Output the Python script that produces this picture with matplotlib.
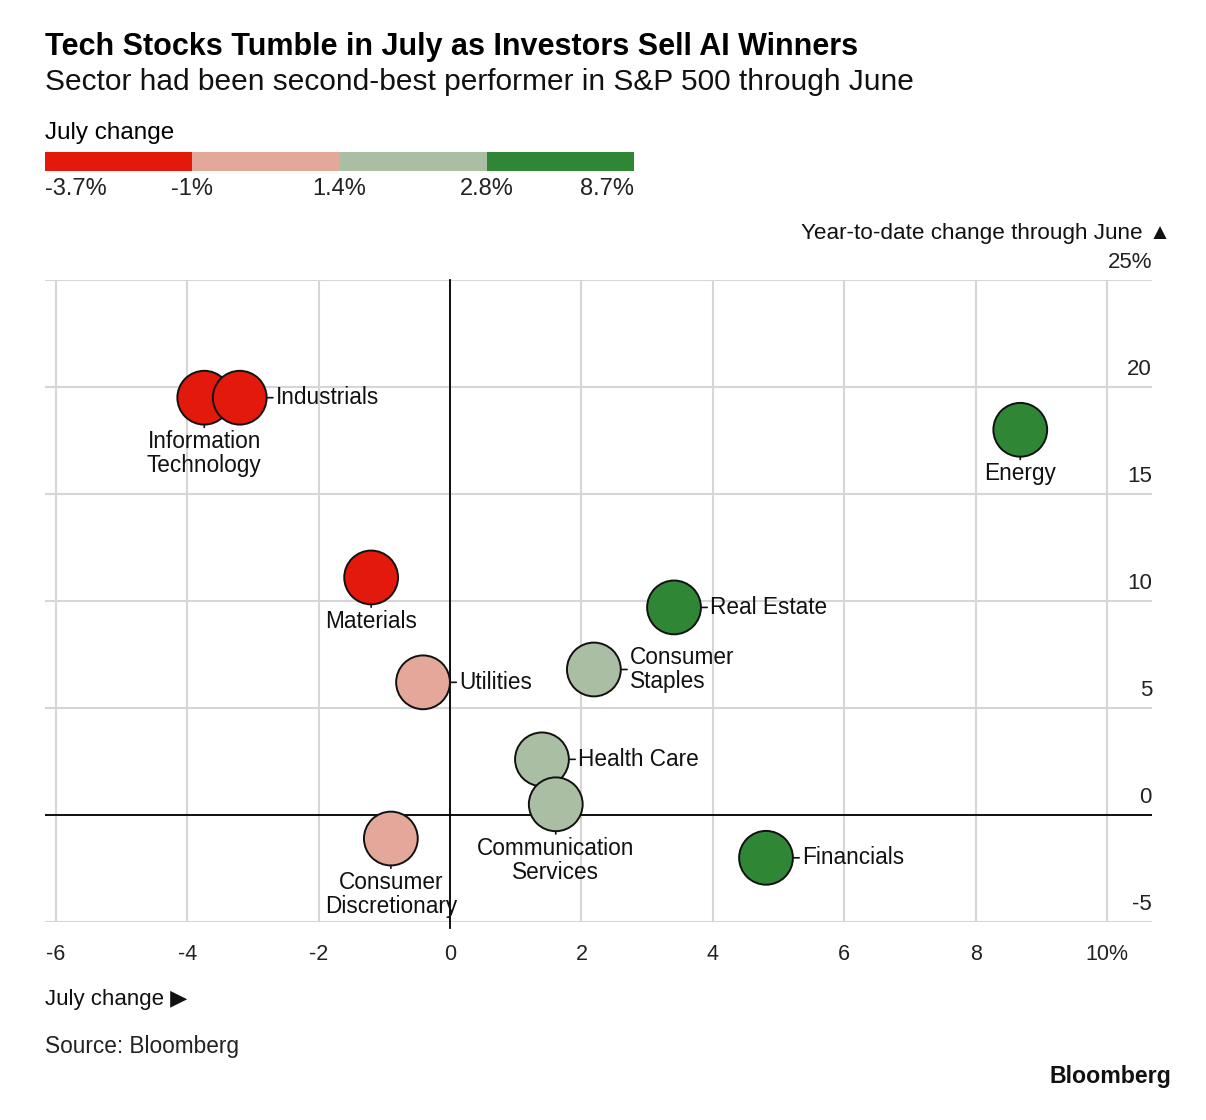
import numpy as np
import matplotlib.pyplot as plt

plt.rcParams['font.family'] = ['Liberation Sans', 'DejaVu Sans']

# data: July change (%) and year-to-date change through June (%)
sectors = ['Information\nTechnology', 'Industrials', 'Energy', 'Materials',
           'Real Estate', 'Consumer\nStaples', 'Utilities', 'Health Care',
           'Communication\nServices', 'Consumer\nDiscretionary', 'Financials']
july_chg = [-3.74, -3.20, 8.68, -1.20, 3.41, 2.19, -0.41, 1.40, 1.61, -0.90, 4.81]
ytd_chg = [19.5, 19.5, 18.0, 11.1, 9.7, 6.8, 6.2, 2.6, 0.5, -1.1, -2.0]
# where the label sits: 'right' or 'below'
label_side = ['below', 'right', 'below', 'below', 'right', 'right', 'right',
              'right', 'below', 'below', 'right']

bin_edges = [-1, 1.4, 2.8]
bin_labels = ['-3.7%', '-1%', '1.4%', '2.8%', '8.7%']
bin_colors = ['#e2190b', '#e4a89b', '#a9bea3', '#2f8736']

xticks = [-6, -4, -2, 0, 2, 4, 6, 8, 10]
xticklabels = ['-6', '-4', '-2', '0', '2', '4', '6', '8', '10%']
yticks = [-5, 0, 5, 10, 15, 20, 25]
yticklabels = ['-5', '0', '5', '10', '15', '20', '25%']

W, H = 1206, 1120
fig = plt.figure(figsize=(W / 100, H / 100), dpi=100)

def fx(px):
    return px / W

def fy(py):
    return 1 - py / H

ax = fig.add_axes([fx(45), fy(922), fx(1152) - fx(45), fy(280) - fy(922)])
ax.set_xlim(-6.164, 10.685)
ax.set_ylim(-5, 25)
for s in ax.spines.values():
    s.set_visible(False)

grid_c = '#d6d6d6'
for x in xticks:
    ax.axvline(x, color=grid_c, lw=1.5, zorder=0)
for y in yticks:
    ax.axhline(y, color=grid_c, lw=1.5, zorder=0)
ax.axhline(0, color='black', lw=1.3, zorder=1)
ax.plot([0, 0], [-5.3, 25], color='black', lw=1.3, zorder=1, clip_on=False)

ax.set_xticks(xticks)
ax.set_xticklabels(xticklabels, fontsize=15.5, color='#222222')
ax.tick_params(axis='x', length=0, pad=16)
ax.set_yticks([])

for y, lab in zip(yticks, yticklabels):
    ax.annotate(lab, xy=(1, y), xycoords=('axes fraction', 'data'),
                xytext=(0, 5), textcoords='offset points',
                ha='right', va='bottom', fontsize=16, color='#222222')

colors = [bin_colors[i] for i in np.digitize(july_chg, bin_edges)]
ax.scatter(july_chg, ytd_chg, s=1500, c=colors, edgecolors='#111111',
           linewidths=1.4, zorder=3)

r_pt = 19.4
for x, y, name, side in zip(july_chg, ytd_chg, sectors, label_side):
    if side == 'right':
        ax.annotate(name, xy=(x, y), xytext=(r_pt + 6.5, 0),
                    textcoords='offset points', ha='left', va='center',
                    fontsize=16.3, color='#111111', linespacing=1.05,
                    arrowprops=dict(arrowstyle='-', lw=1.2, color='#111111',
                                    shrinkA=0, shrinkB=r_pt))
    else:
        ax.annotate(name, xy=(x, y), xytext=(0, -(r_pt + 4.0)),
                    textcoords='offset points', ha='center', va='top',
                    fontsize=16.3, color='#111111', linespacing=1.05,
                    arrowprops=dict(arrowstyle='-', lw=1.2, color='#111111',
                                    shrinkA=0, shrinkB=r_pt))

# titles
fig.text(fx(45), fy(47), 'Tech Stocks Tumble in July as Investors Sell AI Winners',
         fontsize=22, fontweight='bold', va='center', ha='left')
fig.text(fx(45), fy(82), 'Sector had been second-best performer in S&P 500 through June',
         fontsize=21.5, va='center', ha='left', color='#111111')

# colour legend
fig.text(fx(45), fy(133), 'July change', fontsize=17.5, va='center', ha='left')
lax = fig.add_axes([fx(45), fy(171), fx(634) - fx(45), fy(152) - fy(171)])
lax.set_xlim(0, len(bin_colors))
lax.set_ylim(0, 1)
lax.axis('off')
for i in range(len(bin_colors)):
    lax.axvspan(i, i + 1, color=bin_colors[i], lw=0)
for i, lab in enumerate(bin_labels):
    ha = 'left' if i == 0 else ('right' if i == len(bin_labels) - 1 else 'center')
    lax.annotate(lab, xy=(i, 0), xycoords='data', xytext=(0, -5),
                 textcoords='offset points', ha=ha, va='top', fontsize=17,
                 color='#222222', annotation_clip=False)

fig.text(fx(1171), fy(234), 'Year-to-date change through June \u25B2',
         fontsize=16.2, ha='right', va='center', color='#111111')
fig.text(fx(45), fy(999), 'July change \u25B6', fontsize=16, ha='left',
         va='center', color='#111111')
fig.text(fx(45), fy(1046), 'Source: Bloomberg', fontsize=16.3, ha='left',
         va='center', color='#222222')
fig.text(fx(1171), fy(1077), 'Bloomberg', fontsize=16.7, fontweight='bold',
         ha='right', va='center', color='#111111')

fig.savefig('out.png', dpi=100, facecolor='white')
